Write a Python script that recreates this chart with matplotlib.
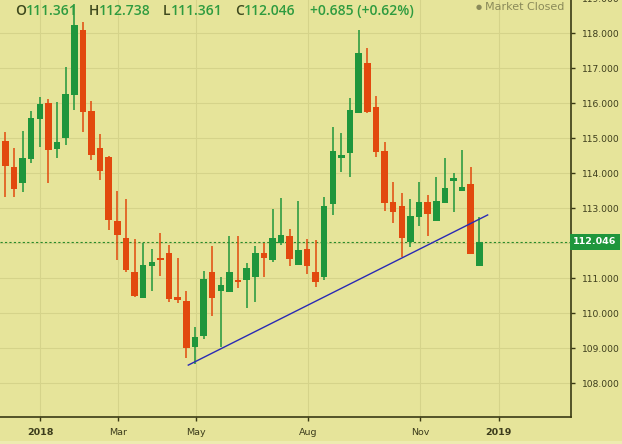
import numpy as np
import matplotlib
matplotlib.use("Agg")
import matplotlib.pyplot as plt
import matplotlib.transforms as mtransforms
from matplotlib.patches import Rectangle

# weekly candles (open, high, low, close)
opens = [114.92, 114.18, 113.73, 114.42, 115.56, 116.01, 114.70, 115.02, 116.25, 118.09,
         115.78, 114.72, 114.46, 112.64, 112.15, 111.18, 110.43, 111.36, 111.58, 111.72,
         110.47, 110.35, 109.05, 109.36, 111.18, 110.65, 110.62, 110.93, 110.95, 111.05,
         111.71, 111.52, 112.02, 112.21, 111.38, 111.84, 111.17, 111.05, 113.11, 114.45,
         114.57, 115.71, 117.16, 115.90, 114.64, 113.18, 113.07, 112.05, 112.76, 113.18,
         112.65, 113.16, 113.79, 113.50, 113.70, 111.361]
highs = [115.19, 114.73, 115.21, 115.78, 116.19, 116.12, 116.05, 117.05, 118.85, 118.33,
         116.07, 115.13, 114.49, 113.50, 113.28, 112.11, 112.02, 111.84, 112.30, 111.94,
         111.59, 110.64, 109.62, 111.22, 111.92, 111.05, 112.21, 112.21, 111.45, 111.92,
         112.00, 112.97, 113.29, 112.41, 113.21, 112.12, 112.09, 113.33, 115.33, 115.14,
         116.14, 118.09, 117.59, 116.21, 114.89, 113.74, 113.45, 113.27, 113.76, 113.38,
         113.90, 114.45, 114.00, 114.67, 114.19, 112.738]
lows = [113.33, 113.33, 113.47, 114.30, 114.75, 113.71, 114.45, 114.81, 115.81, 115.19,
        114.39, 113.82, 112.39, 111.53, 111.19, 110.46, 110.43, 110.65, 111.07, 110.33,
        110.29, 108.71, 108.54, 109.26, 109.93, 109.05, 110.62, 110.73, 110.14, 110.33,
        111.05, 111.46, 111.95, 111.36, 111.38, 111.12, 110.74, 110.95, 112.81, 114.05,
        113.90, 115.71, 115.73, 114.46, 112.93, 112.57, 111.60, 111.90, 112.50, 112.21,
        112.65, 113.16, 112.90, 113.50, 111.69, 111.361]
closes = [114.22, 113.56, 114.43, 115.58, 115.99, 114.67, 114.89, 116.27, 118.24, 115.76,
          114.53, 114.07, 112.67, 112.24, 111.24, 110.49, 111.37, 111.46, 111.52, 110.40,
          110.37, 109.02, 109.32, 110.99, 110.45, 110.81, 111.17, 110.89, 111.29, 111.71,
          111.57, 112.14, 112.24, 111.55, 111.81, 111.35, 110.90, 113.07, 114.64, 114.52,
          115.81, 117.45, 115.76, 114.62, 113.14, 112.90, 112.16, 112.78, 113.18, 112.83,
          113.21, 113.58, 113.86, 113.61, 111.69, 112.046]

month_labels = ["2018", "Mar", "May", "Aug", "Nov", "2019"]
month_pos = [4.03, 13.11, 22.12, 35.15, 48.11, 57.24]
price_ticks = list(range(108, 120))

# hand-drawn trend line (candle index, price)
trend_x = [21.23, 55.96]
trend_y = [108.52, 112.81]

bg = "#E6E49A"
green = "#1F963C"
red = "#E2490E"
dark = "#3A3A14"

fig = plt.figure(figsize=(6.22, 4.44), dpi=100, facecolor=bg)
ax = fig.add_axes([0, 0.0615, 0.918, 0.9423], facecolor=bg)

x = np.arange(len(opens))
o = np.array(opens); c = np.array(closes)
cols = [green if cc >= oo else red for oo, cc in zip(o, c)]

ax.vlines(x, lows, highs, colors=cols, linewidth=1.1, zorder=3)
ax.bar(x, np.maximum(np.abs(c - o), 0.06), bottom=np.minimum(o, c), width=0.76,
       color=cols, edgecolor="none", zorder=4)

ax.plot(trend_x, trend_y, color="#2A2AB4", linewidth=1.0, zorder=5)
ax.axhline(closes[-1], color="#2A8A2A", linewidth=0.8, linestyle=(0, (2, 2)), zorder=2)

ax.set_xlim(-0.615, 65.63)
ax.set_ylim(107.046, 119.0)

# the 112 label sits under the last-price tag, so leave it blank
ax.yaxis.tick_right()
ax.set_yticks(price_ticks)
ax.set_yticklabels(["" if p == 112 else "%.3f" % p for p in price_ticks])
ax.set_xticks(month_pos)
ax.set_xticklabels(month_labels)
for lab in ax.get_xticklabels():
    if lab.get_text() in ("2018", "2019"):
        lab.set_fontweight("bold")

ax.tick_params(axis="y", right=True, length=3, width=1, color=dark, pad=5,
               labelsize=6.6, labelcolor="#3C3C1C")
ax.tick_params(axis="x", length=3, width=1, color=dark, pad=5,
               labelsize=6.8, labelcolor="#3C3C1C")

ax.grid(True, color="#D5D38A", linewidth=0.8, zorder=0)
ax.set_axisbelow(True)
for s in ("left", "top"):
    ax.spines[s].set_visible(False)
for s in ("bottom", "right"):
    ax.spines[s].set_color(dark)
    ax.spines[s].set_linewidth(1.2)

# last price tag on the right axis
tr = mtransforms.blended_transform_factory(ax.transAxes, ax.transData)
ax.text(1.004, closes[-1], "%.3f" % closes[-1], transform=tr, ha="left", va="center",
        fontsize=6.8, fontweight="bold", color="white", clip_on=False, zorder=6,
        bbox=dict(boxstyle="square,pad=0.35", fc=green, ec="none"))

# header: O H L C change
hfont = dict(family=["Open Sans", "DejaVu Sans"], fontsize=10, fontweight=600)
hdr = [("O", "%.3f" % opens[-1], 15), ("H", "%.3f" % highs[-1], 89),
       ("L", "%.3f" % lows[-1], 163), ("C", "%.3f" % closes[-1], 235)]
for letter, num, px in hdr:
    t1 = fig.text(px / 622, 1 - 11 / 444, letter, color="#3F4A1E",
                  va="center", ha="left", **hfont)
    ax.annotate(num, xy=(1, 0.5), xycoords=t1, va="center", ha="left",
                color="#2E9B3F", annotation_clip=False, **hfont)
chg = closes[-1] - opens[-1]
pct = chg / opens[-1] * 100
fig.text(310 / 622, 1 - 11 / 444, "+%.3f (+%.2f%%)" % (chg, pct),
         color="#2E9B3F", va="center", ha="left", **hfont)

fig.text(476 / 622, 1 - 7.5 / 444, "\u25CF", fontsize=5, color="#8A8A5A", va="center", ha="left")
fig.text(485 / 622, 1 - 7.5 / 444, "Market Closed", fontsize=8, color="#8A8A5A",
         va="center", ha="left")

fig.patches.append(Rectangle((0, 0), 1, 3 / 444, transform=fig.transFigure,
                             facecolor="#EDEBB0", edgecolor="none"))

fig.savefig("out.png", dpi=100, facecolor=bg)
